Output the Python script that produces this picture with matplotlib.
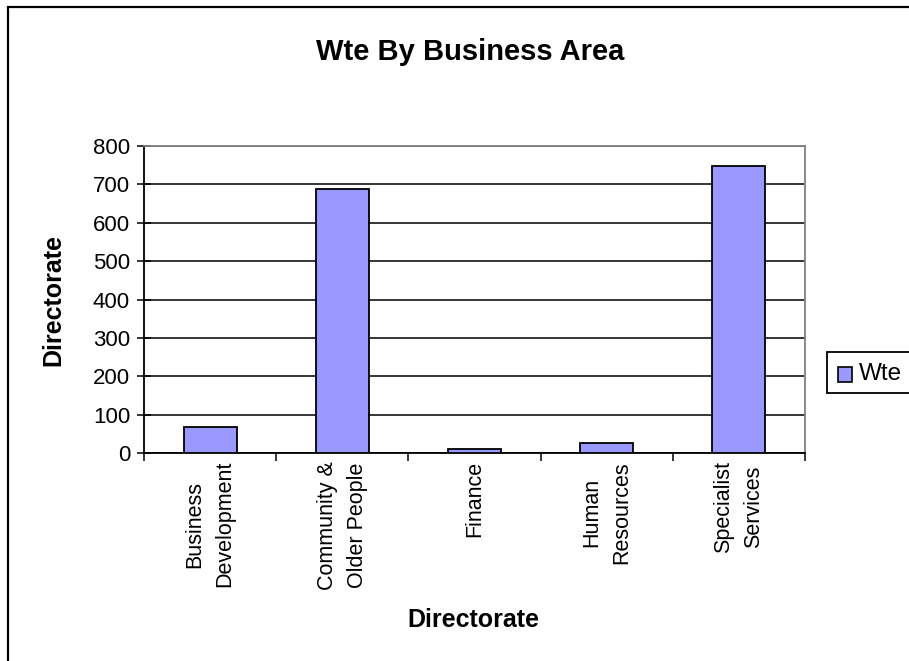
import matplotlib
matplotlib.use("Agg")
import matplotlib.pyplot as plt
from matplotlib.patches import Rectangle
import numpy as np

plt.rcParams['font.family'] = ['Liberation Sans', 'DejaVu Sans']

# Wte per directorate
categories = ["Business\nDevelopment", "Community &\nOlder People", "Finance",
              "Human\nResources", "Specialist\nServices"]
wte = [68, 688, 10, 26, 747]
series_name = "Wte"
y_ticks = [0, 100, 200, 300, 400, 500, 600, 700, 800]
bar_color = '#9999FF'

W, H = 909, 661
fig = plt.figure(figsize=(W / 100, H / 100), dpi=100)

# chart area frame (runs off the right and bottom edges)
fig.patches.append(Rectangle((8 / W, -0.05), 1.1, 1 - 7 / H + 0.05,
                             transform=fig.transFigure, fill=False,
                             edgecolor='black', linewidth=1.6))

ax = fig.add_axes([144 / W, 1 - 453 / H, (805 - 144) / W, (453 - 146) / H])
x = np.arange(len(categories))
ax.bar(x, wte, width=0.4, color=bar_color, edgecolor='black',
       linewidth=1.3, zorder=3)

ax.set_xlim(-0.5, len(categories) - 0.5)
ax.set_ylim(0, 800)
ax.set_yticks(y_ticks)
ax.set_yticklabels([str(v) for v in y_ticks], fontsize=16)
ax.yaxis.grid(True, color='black', linewidth=1.1, zorder=1)
ax.set_axisbelow(True)
ax.tick_params(axis='y', direction='inout', length=10, width=1.1, pad=5)

# category boundaries get the tick marks, labels sit between them
ax.set_xticks(np.arange(-0.5, len(categories), 1.0))
ax.set_xticklabels([])
ax.tick_params(axis='x', direction='out', length=6, width=1.1)
for xi, lab in zip(x, categories):
    ax.text(xi, -0.026, lab, transform=ax.get_xaxis_transform(),
            rotation=90, ha='center', va='top', multialignment='center',
            linespacing=1.55, fontsize=15.5)

for side in ('left', 'bottom'):
    ax.spines[side].set_color('black')
    ax.spines[side].set_linewidth(1.3)
for side in ('top', 'right'):
    ax.spines[side].set_color('#808080')
    ax.spines[side].set_linewidth(1.3)

fig.text(470 / W, 1 - 52 / H, "Wte By Business Area", ha='center', va='center',
         fontsize=21, fontweight='bold')
fig.text(473 / W, 1 - 620 / H, "Directorate", ha='center', va='center',
         fontsize=18, fontweight='bold')
fig.text(53 / W, 1 - 300 / H, "Directorate", ha='center', va='center',
         rotation=90, fontsize=18, fontweight='bold')

# legend box, clipped by the right edge of the chart
fig.patches.append(Rectangle((827 / W, 1 - 393 / H), 100 / W, 41 / H,
                             transform=fig.transFigure, facecolor='white',
                             edgecolor='black', linewidth=1.3))
fig.patches.append(Rectangle((838 / W, 1 - 382 / H), 14 / W, 15 / H,
                             transform=fig.transFigure, facecolor=bar_color,
                             edgecolor='black', linewidth=1.2))
fig.text(859 / W, 1 - 374 / H, series_name, ha='left', va='center',
         fontsize=17.5)

fig.savefig("out.png", dpi=100)
